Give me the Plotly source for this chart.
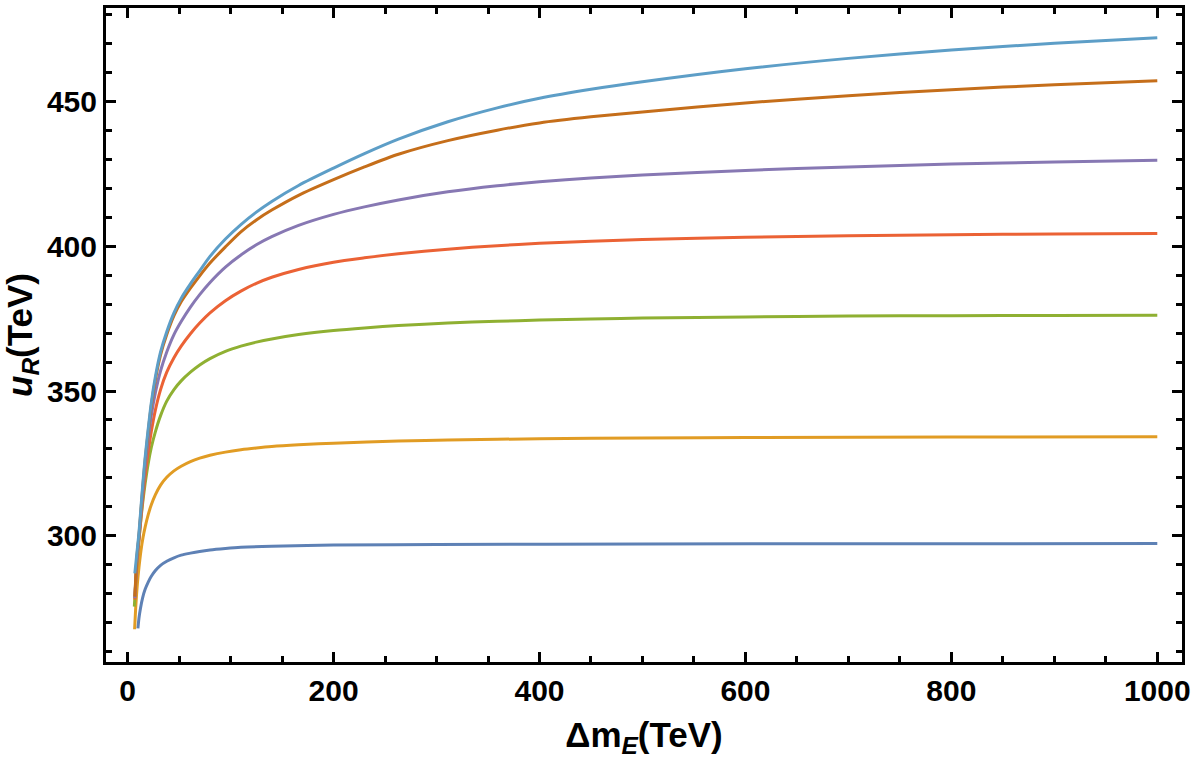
import plotly.graph_objects as go

# ---- data (x = Δm_E in TeV, y = u_R in TeV) ----
x_c1 = [10, 11, 12.5, 14.5, 17, 20, 23, 27, 32, 38, 45, 52, 61, 70, 80, 95, 110, 140, 200, 300, 500, 700, 1000]
y_c1 = [268, 271.5, 275, 278.5, 281.5, 284, 286, 288, 289.8, 291.2, 292.4, 293.3, 294, 294.6, 295.1, 295.6, 296,
        296.4, 296.8, 297, 297.15, 297.25, 297.3]

x_c2 = [6.8, 8, 9.5, 11, 13, 15, 17, 20, 23, 27, 32, 38, 45, 52, 61, 70, 80, 95, 110, 125, 140, 166, 200, 263,
        311, 400, 500, 600, 800, 1000]
y_c2 = [267.7, 276, 283.5, 289, 295, 299.5, 303, 307.3, 310.7, 314.2, 317.5, 320.2, 322.4, 324, 325.6, 326.8,
        327.8, 328.9, 329.7, 330.3, 330.8, 331.4, 332, 332.7, 333.1, 333.5, 333.8, 333.95, 334.1, 334.2]

x_up = [7, 9, 11, 13, 15, 17, 20, 23, 27, 32, 38, 45, 52, 61, 70, 80, 95, 110, 125, 140, 166, 200, 230, 263,
        311, 359, 400, 450, 500, 600, 700, 800, 900, 1000]

x_c3 = [6.5] + x_up[1:]
y_c3 = [275.5, 290, 298.5, 306, 312.5, 318, 325, 330.5, 336, 341.5, 346.5, 350.5, 353.5, 356.5, 359, 361.2,
        363.7, 365.5, 366.9, 368, 369.5, 370.9, 371.8, 372.6, 373.5, 374.1, 374.5, 374.9, 375.2, 375.6, 375.9,
        376, 376.1, 376.2]

x_c4 = x_up
y_c4 = [278, 290.5, 298.5, 306.5, 314, 320.5, 329, 336, 343.5, 350.5, 356.5, 361.5, 365.5, 369.8, 373.5, 377,
        381.2, 384.5, 387.2, 389.3, 392, 394.5, 396, 397.4, 399, 400.2, 401, 401.7, 402.3, 403.1, 403.6, 404,
        404.2, 404.4]

x_c5 = x_up
y_c5 = [278.5, 291.5, 299.5, 308, 316.5, 324, 333.5, 341.5, 349.5, 357, 363.5, 369.5, 374, 379, 383.3, 387.5,
        392.8, 397, 400.5, 403.3, 407.2, 411, 413.6, 416, 418.8, 420.9, 422.3, 423.6, 424.6, 426.2, 427.4,
        428.4, 429.1, 429.7]

x_c6 = x_up
y_c6 = [279, 292.5, 300, 309, 318, 326, 336, 345, 354, 362.5, 369.5, 376, 380.8, 385.5, 389.8, 394.2, 399.8,
        405, 409.1, 412.5, 417.6, 423, 427.4, 431.8, 436.5, 440.1, 442.6, 444.7, 446.4, 449.5, 452, 454.1,
        455.8, 457.2]

x_c7 = x_up
y_c7 = [287, 294, 301, 310, 319, 327, 337, 346, 355, 363.5, 370.5, 377, 382, 387, 391.5, 396.5, 402.5, 407.5,
        411.8, 415.5, 421, 427, 432, 437, 443, 447.8, 451.1, 454.2, 456.8, 461.3, 464.9, 467.8, 470.1, 472]

series = [
    (x_c1, y_c1, "#5E81B5"),
    (x_c2, y_c2, "#E19C24"),
    (x_c3, y_c3, "#8FB032"),
    (x_c4, y_c4, "#EB6235"),
    (x_c5, y_c5, "#8778B3"),
    (x_c6, y_c6, "#C56E1A"),
    (x_c7, y_c7, "#5D9EC7"),
]

x_tickvals = [0, 200, 400, 600, 800, 1000]
y_tickvals = [300, 350, 400, 450]
x_minor = [v for v in range(50, 1001, 50) if v % 200 != 0]
y_minor = [v for v in range(260, 481, 10) if v % 50 != 0]
x_range = [-21, 1024]
y_range = [256.4, 482.3]

W, H = 1196, 759
M = dict(l=106, r=13, t=5, b=96)

fig = go.Figure()
for xs, ys, col in series:
    fig.add_trace(go.Scatter(x=xs, y=ys, mode="lines",
                             line=dict(color=col, width=3, shape="spline", smoothing=0.8),
                             showlegend=False, hoverinfo="skip"))

font_family = "Liberation Sans, Arial, sans-serif"
tick_font = dict(family=font_family, size=30, color="black", weight="bold")
title_font = dict(family=font_family, size=35, color="black", weight="bold")

common = dict(showline=True, linecolor="black", linewidth=3, mirror="allticks",
              ticks="inside", ticklen=10, tickwidth=3, tickcolor="black",
              showgrid=False, zeroline=False, tickfont=tick_font, layer="above traces")

fig.update_layout(
    width=W, height=H,
    margin=M,
    paper_bgcolor="white", plot_bgcolor="rgba(0,0,0,0)",
    xaxis=dict(range=x_range, tickmode="array", tickvals=x_tickvals,
               minor=dict(ticks="inside", tickvals=x_minor, ticklen=6, tickwidth=2.5, tickcolor="black"),
               title=dict(text="Δm<sub><i>E</i></sub>(TeV)", standoff=22, font=title_font), **common),
    yaxis=dict(range=y_range, tickmode="array", tickvals=y_tickvals,
               minor=dict(ticks="inside", tickvals=y_minor, ticklen=6, tickwidth=2.5, tickcolor="black"),
               title=dict(text="<i>u</i><sub><i>R</i></sub>(TeV)", standoff=6, font=title_font), **common),
)

fig.write_html("out.html")
